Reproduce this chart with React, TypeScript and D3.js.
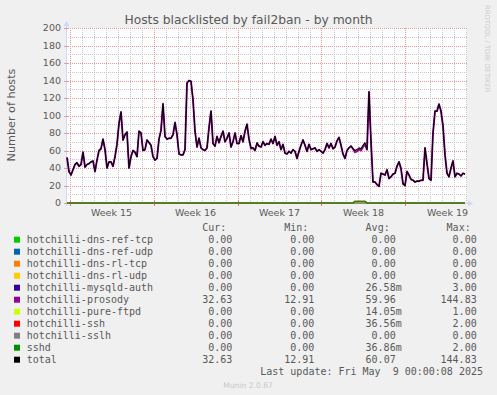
import React from "react";
import * as d3 from "d3";

const W = 497;
const H = 395;

// time window of the month graph: one sample every 4 hours, 2px per sample
const START = Date.UTC(2025, 3, 6, 19);
const END = START + 800 * 3600e3;
const STEP = 4 * 3600e3;

// total hosts blacklisted
const totalHosts = [
  52, 36, 32, 38, 44, 46, 42, 44, 58, 41, 44, 45, 47, 48, 36, 49, 60, 62, 73, 61,
  40, 47, 47, 42, 53, 67, 91, 104, 72, 78, 81, 40, 53, 60, 58, 53, 82, 80, 60, 61,
  72, 69, 66, 53, 49, 51, 73, 83, 114, 76, 73, 74, 74, 78, 92, 78, 56, 55, 55, 61,
  137, 140, 139, 118, 82, 64, 74, 63, 61, 60, 63, 86, 105, 68, 65, 76, 69, 76, 82, 70,
  74, 80, 64, 70, 80, 68, 68, 77, 70, 82, 90, 73, 63, 63, 60, 69, 65, 64, 70, 66,
  68, 67, 73, 68, 76, 66, 70, 61, 67, 57, 56, 59, 57, 61, 59, 51, 59, 66, 72, 66,
  59, 67, 61, 62, 63, 59, 61, 59, 57, 61, 68, 63, 68, 62, 64, 71, 75, 66, 56, 51,
  60, 63, 65, 62, 60, 61, 63, 62, 66, 69, 61, 127, 70, 24, 24, 21, 19, 34, 33, 32,
  38, 28, 30, 33, 34, 42, 47, 40, 22, 20, 36, 32, 27, 26, 24, 25, 25, 26, 26, 63,
  45, 28, 26, 80, 105, 105, 113, 105, 88, 55, 34, 30, 40, 48, 30, 34, 33, 31, 34, 33,
];

// sample indexes where the small series were not zero
const pureFtpdIdx = [48, 92, 95, 167];
const sshIdx = [144, 145, 146, 147, 148, 149];
const sshdIdx = [144, 145, 146, 147, 148, 149];

const seriesNames = [
  "hotchilli-dns-ref-tcp",
  "hotchilli-dns-ref-udp",
  "hotchilli-dns-rl-tcp",
  "hotchilli-dns-rl-udp",
  "hotchilli-mysqld-auth",
  "hotchilli-prosody",
  "hotchilli-pure-ftpd",
  "hotchilli-ssh",
  "hotchilli-sslh",
  "sshd",
  "total",
];
const seriesColors = [
  "#00CC00", "#0066B3", "#FF8000", "#FFCC00", "#330099", "#990099",
  "#CCFF00", "#FF0000", "#808080", "#008F00", "#000000",
];
const curVals = ["0.00", "0.00", "0.00", "0.00", "0.00", "32.63", "0.00", "0.00", "0.00", "0.00", "32.63"];
const minVals = ["0.00", "0.00", "0.00", "0.00", "0.00", "12.91", "0.00", "0.00", "0.00", "0.00", "12.91"];
const avgVals = ["0.00", "0.00", "0.00", "0.00", "26.58m", "59.96", "14.05m", "36.56m", "0.00", "36.86m", "60.07"];
const maxVals = ["0.00", "0.00", "0.00", "0.00", "3.00", "144.83", "1.00", "2.00", "0.00", "2.00", "144.83"];

const yTicks = [0, 20, 40, 60, 80, 100, 120, 140, 160, 180, 200];

const MONO = "'DejaVu Sans Mono', monospace";
const SANS = "'DejaVu Sans', sans-serif";
const TXT = "#595959";
const GRID = "#C8C8C8";
const MGRID = "#E69A9A";

export default function App() {
  const x = d3.scaleUtc().domain([START, END]).range([67, 467]);
  const y = d3.scaleLinear().domain([0, 200]).range([203, 28]);
  const px = (v: number) => Math.round(v);

  const times = totalHosts.map((_, i) => START + i * STEP);
  const zeros = totalHosts.map(() => 0);
  const pureFtpd = zeros.map((v, i) => (pureFtpdIdx.includes(i) ? 1 : v));
  const ssh = zeros.map((v, i) => (sshIdx.includes(i) ? 2 : v));
  const sshd = zeros.map((v, i) => (sshdIdx.includes(i) ? 2 : v));
  const prosody = totalHosts.map((t, i) => t - pureFtpd[i] - sshd[i]);

  const seriesData = [zeros, zeros, zeros, zeros, zeros, prosody, pureFtpd, ssh, zeros, sshd, totalHosts];

  const line = d3
    .line<number>()
    .x((_, i) => x(times[i]))
    .y((d) => y(d));

  const days = d3.utcDay.range(START, END);
  const mondays = d3.utcMonday.range(START, END);
  const weekFmt = d3.utcFormat("%V");
  const minorY = d3.range(10, 200, 20);

  const colEnds = [232.3, 314.3, 395.7, 476.7];
  const cols = [curVals, minVals, avgVals, maxVals];
  const heads = ["Cur:", "Min:", "Avg:", "Max:"];
  const rowY = (k: number) => 239.7 + k * 12;

  const widthFor = (k: number) => (k === 5 ? 1.9 : k === 10 ? 1.1 : 1.2);

  return (
    <svg width={W} height={H} style={{ position: "absolute", left: 0, top: 0 }}>
      <defs>
        <pattern id="gh" width={2} height={1} patternUnits="userSpaceOnUse">
          <rect width={1} height={1} fill={GRID} />
        </pattern>
        <pattern id="gv" width={1} height={2} patternUnits="userSpaceOnUse">
          <rect width={1} height={1} fill={GRID} />
        </pattern>
        <pattern id="mh" width={2} height={1} patternUnits="userSpaceOnUse">
          <rect width={1} height={1} fill={MGRID} />
        </pattern>
        <pattern id="mv" width={1} height={2} patternUnits="userSpaceOnUse">
          <rect width={1} height={1} fill={MGRID} />
        </pattern>
      </defs>
      <rect width={W} height={H} fill="#F0F0F0" />
      <rect x={67} y={28} width={400} height={175} fill="#FFFFFF" />

      {/* grid */}
      <g shapeRendering="crispEdges">
        {days.map((d) => (
          <rect key={"d" + +d} x={px(x(d))} y={28} width={1} height={175} fill="url(#gv)" />
        ))}
        {minorY.map((v) => (
          <rect key={"m" + v} x={67} y={px(y(v))} width={400} height={1} fill="url(#gh)" />
        ))}
        {yTicks.map((v) => (
          <rect key={"M" + v} x={67} y={px(y(v))} width={400} height={1} fill="url(#mh)" />
        ))}
        {mondays.map((d) => (
          <rect key={"w" + +d} x={px(x(d))} y={28} width={1} height={175} fill="url(#mv)" />
        ))}
      </g>

      {/* axes */}
      <g shapeRendering="crispEdges">
        <line x1={66.5} x2={66.5} y1={24} y2={206} stroke="#CFD6F8" />
        <line x1={64} x2={468} y1={203.5} y2={203.5} stroke="#CFD6F8" />
        {yTicks.map((v) => (
          <line key={"t" + v} x1={64} x2={68} y1={px(y(v)) + 0.5} y2={px(y(v)) + 0.5} stroke={MGRID} />
        ))}
        {mondays.map((d) => (
          <line key={"tw" + +d} x1={px(x(d)) + 0.5} x2={px(x(d)) + 0.5} y1={201} y2={206} stroke="#E07070" />
        ))}
      </g>
      <path d="M63.5,26 L66.5,21 L69.5,26 Z" fill="#CFD6F8" />
      <path d="M468,200.5 L473,203.5 L468,206.5 Z" fill="#CFD6F8" />

      {/* series */}
      <g fill="none" strokeLinejoin="round">
        {seriesData.map((s, k) => (
          <path key={seriesNames[k]} d={line(s) || ""} stroke={seriesColors[k]} strokeWidth={widthFor(k)} />
        ))}
      </g>

      {/* y tick labels */}
      <g fontFamily={SANS} fontSize={9.5} fill={TXT} textAnchor="end">
        {yTicks.map((v) => (
          <text key={"yl" + v} x={61} y={y(v)} dy="0.36em">
            {v}
          </text>
        ))}
      </g>

      {/* x labels */}
      <g fontFamily={SANS} fontSize={9.5} fill={TXT} textAnchor="middle">
        {mondays.map((d) => (
          <text key={"xl" + +d} x={x(+d + 3.5 * 864e5)} y={212.7} dy="0.36em">
            {"Week " + weekFmt(d)}
          </text>
        ))}
      </g>

      <text x={248.5} y={24} textAnchor="middle" fontFamily={SANS} fontSize={12.3} fill={TXT}>
        Hosts blacklisted by fail2ban - by month
      </text>
      <text
        transform="translate(15,115) rotate(-90)"
        textAnchor="middle"
        fontFamily={SANS}
        fontSize={11.2}
        fill={TXT}
      >
        Number of hosts
      </text>
      <text
        transform="translate(484.5,5) rotate(90)"
        fontFamily={SANS}
        fontSize={6.8}
        fill="#CCCCCC"
      >
        RRDTOOL / TOBI OETIKER
      </text>

      {/* legend */}
      <g fontFamily={MONO} fontSize={10} fill={TXT}>
        {heads.map((h, c) => (
          <text key={h} x={colEnds[c] - 6} y={227.7} dy="0.35em" textAnchor="end">
            {h}
          </text>
        ))}
        {seriesNames.map((n, k) => (
          <g key={n}>
            <rect x={14} y={rowY(k) - 3} width={6} height={6} fill={seriesColors[k]} />
            <text x={26.7} y={rowY(k)} dy="0.35em">
              {n}
            </text>
            {cols.map((col, c) => {
              const v = col[k];
              const hasUnit = v.endsWith("m");
              return (
                <text
                  key={c}
                  x={colEnds[c] + (hasUnit ? 6 : 0)}
                  y={rowY(k)}
                  dy="0.35em"
                  textAnchor="end"
                >
                  {v}
                </text>
              );
            })}
          </g>
        ))}
        <text x={483} y={371.7} dy="0.35em" textAnchor="end" style={{ whiteSpace: "pre" }}>
          {"Last update: Fri May  9 00:00:08 2025"}
        </text>
      </g>

      <text x={248} y={385} dy="0.35em" textAnchor="middle" fontFamily={SANS} fontSize={7.6} fill="#C8C8C8">
        Munin 2.0.67
      </text>
    </svg>
  );
}
